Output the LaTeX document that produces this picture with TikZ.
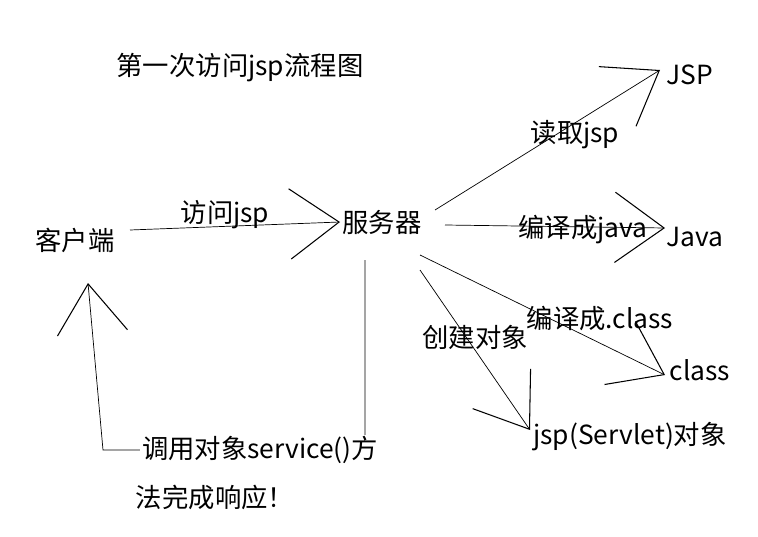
\documentclass[tikz,border=0pt]{standalone}
\usepackage{fontspec}
\setmainfont{Noto Sans CJK SC}
\usetikzlibrary{arrows.meta}
\tikzset{
	lbl/.style={font=\fontsize{15}{18}\selectfont},
	flow/.style={thin,-{Straight Barb[length=28pt,width=40pt,line width=0.6pt]}}
}
\begin{document}
\begin{tikzpicture}[x=0.02cm,y=-0.02cm]
		\useasboundingbox (0,0) rectangle (758,537);
		\fill[white] (0,0) rectangle (758,537);

		\node[lbl] (title) at (240,68) {第一次访问jsp流程图};
		\node[lbl] (client) at (75,240) {客户端};
		\node[lbl] (server) at (382,222) {服务器};
		\node[lbl] (jsp) at (690,75) {JSP};
		\node[lbl] (java) at (695,237) {Java};
		\node[lbl] (class) at (700,370) {class};
		\node[lbl] (obj) at (630,437) {jsp(Servlet)对象};

		\coordinate (c1) at (130,230);
		\coordinate (s0) at (340,222);
		\coordinate (s1) at (435,210);
		\coordinate (s2) at (445,225);
		\coordinate (s3) at (420,255);
		\coordinate (s4) at (420,270);
		\coordinate (s5) at (365,260);
		\coordinate (t1) at (660,70);
		\coordinate (t2) at (665,228);
		\coordinate (t3) at (665,375);
		\coordinate (t4) at (530,430);
		\coordinate (r1) at (365,450);
		\coordinate (r2) at (103,450);
		\coordinate (r3) at (88,283);

		\draw[flow] (c1) -- (s0);
		\draw[flow] (s1) -- (t1);
		\draw[flow] (s2) -- (t2);
		\draw[flow] (s3) -- (t3);
		\draw[flow] (s4) -- (t4);
		\draw[flow] (s5) -- (r1) -- (r2) -- (r3);

		\node[lbl] at (225,215) {访问jsp};
		\node[lbl] at (575,135) {读取jsp};
		\node[lbl] at (583,230) {编译成java};
		\node[lbl] at (600,318) {编译成.class};
		\node[lbl] at (475,337) {创建对象};
		\node[lbl,fill=white,inner sep=1pt] at (260,450) {调用对象service()方};
		\node[lbl] at (215,497) {法完成响应！};
	\end{tikzpicture}
\end{document}
